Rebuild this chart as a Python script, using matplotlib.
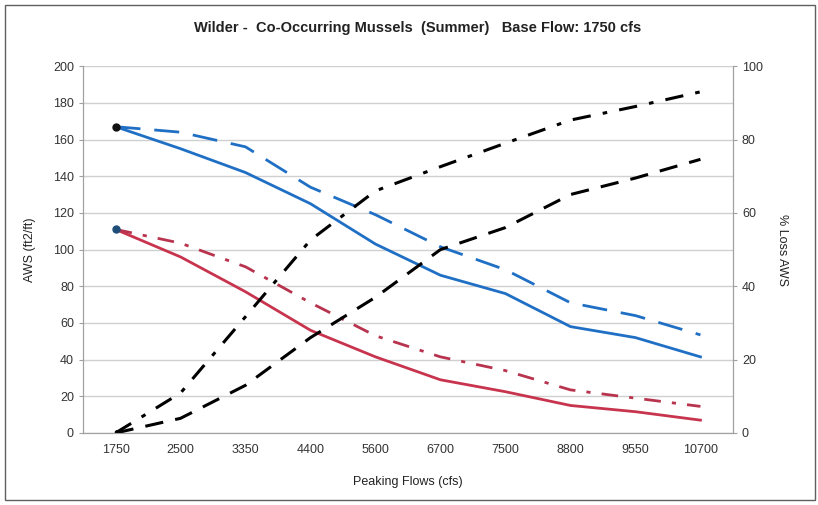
#!/usr/bin/env python3
# -*- coding: utf-8 -*-
"""
Wilder - co-occurring mussels (summer), AWS and % loss vs peaking flow.
"""
import numpy as np
import matplotlib
matplotlib.use("Agg")
import matplotlib.pyplot as plt
from matplotlib.patches import Rectangle

# categories (peaking flows, cfs)
flows = ["1750", "2500", "3350", "4400", "5600", "6700", "7500", "8800", "9550", "10700"]

# AWS (ft2/ft), left axis
aws_blue_solid = [167, 155, 142, 125, 103, 86, 76, 58, 52, 41.5]
aws_blue_dash = [167, 164, 156, 134, 119, 101.5, 89, 71, 64, 53.5]
aws_red_solid = [111, 96, 77, 56, 41.5, 29, 22.5, 15, 11.6, 7]
aws_red_dashdot = [111, 103.5, 90.6, 71, 53, 41.5, 34, 23.5, 19, 14.5]

# % loss AWS, right axis
loss_dashdot = [0, 10.9, 31.7, 52.6, 66, 72.6, 79, 85.3, 89, 93]
loss_dash = [0, 4, 13, 26, 37, 50, 56, 65, 69.5, 74.6]

plt.rcParams['font.family'] = ['Liberation Sans', 'DejaVu Sans']

fig = plt.figure(figsize=(8.18, 5.05), dpi=100)
# outer chart border
fig.patches.append(Rectangle((0.006, 0.01), 0.99, 0.98, transform=fig.transFigure,
                             fill=False, edgecolor="#606060", linewidth=1.0))

ax = fig.add_axes([0.1015, 0.1426, 0.7945, 0.7264])
ax2 = ax.twinx()

x = np.arange(len(flows))
blue = "#1f6fc5"
red = "#c8344e"

ax.plot(x, aws_blue_solid, color=blue, lw=2, zorder=3)
ax.plot(x, aws_blue_dash, color=blue, lw=2, dashes=(9, 5), zorder=3)
ax.plot(x, aws_red_solid, color=red, lw=2, zorder=3)
ax.plot(x, aws_red_dashdot, color="#b8344e", lw=2, dashes=(6, 4, 1.5, 4), zorder=3)
ax.plot(x[0], aws_blue_solid[0], 'o', color="#111111", ms=5, zorder=4)
ax.plot(x[0], aws_red_solid[0], 'o', color="#1f4e79", ms=5, zorder=4)

ax2.plot(x, loss_dashdot, color="black", lw=2.2, dashes=(6, 4, 1.5, 4))
ax2.plot(x, loss_dash, color="black", lw=2.2, dashes=(6, 4))
ax2.plot(x[0], loss_dash[0], '^', color="black", ms=5)

ax.set_xlim(-0.5, len(flows) - 0.5)
ax.set_ylim(0, 200)
ax2.set_ylim(0, 100)
ax.set_yticks(np.arange(0, 201, 20))
ax2.set_yticks(np.arange(0, 101, 20))
ax.set_xticks(x)
ax.set_xticklabels(flows)
ax.yaxis.grid(True, color="#d0d0d0", lw=1)
ax.set_axisbelow(True)

for a in (ax, ax2):
    for s in a.spines.values():
        s.set_color("#a0a0a0")
    a.spines['top'].set_visible(False)
    a.tick_params(labelsize=9, colors="#333333", length=3, color="#a0a0a0")
ax.tick_params(axis='x', length=0, pad=8)

ax.set_xlabel("Peaking Flows (cfs)", fontsize=9, color="#222222", labelpad=14)
ax.set_ylabel("AWS (ft2/ft)", fontsize=9, color="#222222", labelpad=12)
ax2.set_ylabel("% Loss AWS", fontsize=9, color="#222222", rotation=270, labelpad=18)
fig.text(0.51, 0.945, "Wilder -  Co-Occurring Mussels  (Summer)   Base Flow: 1750 cfs",
         ha="center", va="center", fontsize=10.5, fontweight="bold", color="#222222")

fig.savefig("out.png", dpi=100)
